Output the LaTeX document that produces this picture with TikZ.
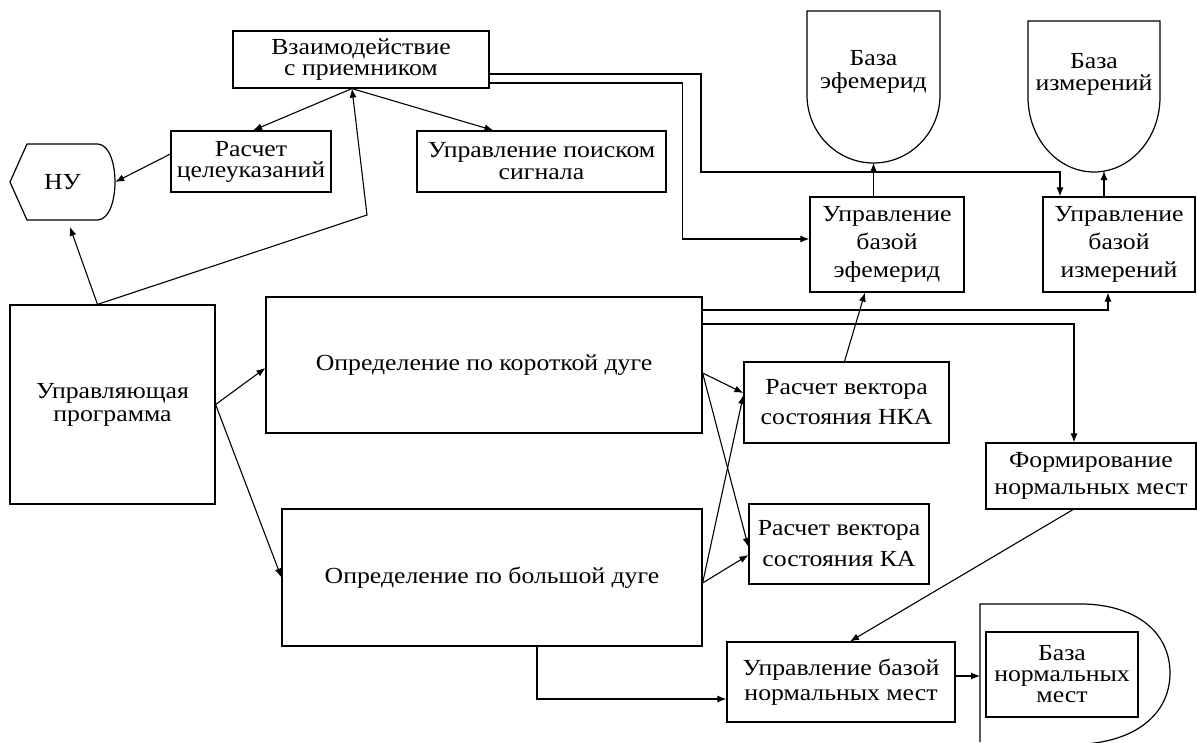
\documentclass[tikz,border=0pt]{standalone}
\usepackage{fontspec}
\setmainfont[FakeStretch=1.12]{Liberation Serif}
\usetikzlibrary{arrows.meta}
\tikzset{%
  box/.style={rectangle, draw=black, line width=1.2pt, align=center, inner sep=0pt},
  lbl/.style={rectangle, align=center, inner sep=0pt},
  lsp/.style={font=\fontsize{23}{#1}\selectfont},
  link/.style={line width=1.1pt, -{Latex[length=9pt,width=7pt]}},
  outline/.style={line width=1.2pt},
}

\begin{document}
\begin{tikzpicture}[x=1pt,y=-1pt]
  \useasboundingbox (0,0) rectangle (1197,742);
  % top row
  \node[box,lsp=21,minimum width=256pt,minimum height=57pt] (vzaim) at (361,59.5) {Взаимодействие\\с приемником};
  \node[box,lsp=21,minimum width=160pt,minimum height=61pt] (celeu) at (251,161.5) {Расчет\\целеуказаний};
  \node[box,lsp=22,minimum width=249pt,minimum height=61pt] (poisk) at (541.5,161.5) {Управление поиском\\сигнала};
  \node[lbl,lsp=20,minimum width=105pt,minimum height=76pt] (nu) at (62.5,182) {НУ};
  \draw[outline] (10,182) -- (27,144) -- (98,144) .. controls (110,145) and (115,165) .. (115,182)
    .. controls (115,199) and (110,219) .. (98,220) -- (27,220) -- cycle;
  % data bases
  \node[lbl,lsp=23] (baseeph) at (873.5,72) {База\\эфемерид};
  \draw[outline] (807,95) -- (807,11) -- (940,11) -- (940,95)
    arc[start angle=0, end angle=-180, x radius=66.5pt, y radius=68pt];
  \coordinate (baseephbot) at (873.5,163);
  \node[lbl,lsp=22] (baseizm) at (1094,74) {База\\измерений};
  \draw[outline] (1028,97) -- (1028,21) -- (1160,21) -- (1160,97)
    arc[start angle=0, end angle=-180, x radius=66pt, y radius=75pt];
  \coordinate (baseizmbot) at (1104,171);
  \node[box,lsp=28,minimum width=154pt,minimum height=95pt] (upreph) at (887,244.5) {Управление\\базой\\эфемерид};
  \node[box,lsp=28,minimum width=152pt,minimum height=95pt] (uprizm) at (1119,244.5) {Управление\\базой\\измерений};
  % middle
  \node[box,lsp=23,minimum width=205pt,minimum height=199pt] (upr) at (112.5,404.5) {Управляющая\\программа};
  \node[box,lsp=23,minimum width=436pt,minimum height=136pt] (korot) at (484,365) {Определение по короткой дуге};
  \node[box,lsp=23,minimum width=420pt,minimum height=137pt] (bolsh) at (492,577.5) {Определение по большой дуге};
  \node[box,lsp=30,minimum width=205pt,minimum height=81pt] (nka) at (846.5,402.5) {Расчет вектора\\состояния НКА};
  \node[box,lsp=31,minimum width=180pt,minimum height=80pt] (ka) at (839,544) {Расчет вектора\\состояния КА};
  \node[box,lsp=27,minimum width=210pt,minimum height=66pt] (form) at (1091,476) {Формирование\\нормальных мест};
  % bottom
  \node[box,lsp=25,minimum width=228pt,minimum height=80pt] (uprnorm) at (841,682) {Управление базой\\нормальных мест};
  \node[box,lsp=21,minimum width=152pt,minimum height=85pt] (basenorm) at (1062,674.5) {База\\нормальных\\мест};
  \draw[outline] (980,742) -- (980,604) -- (1085,604) .. controls (1140,606) and (1170,635) .. (1170,673)
    .. controls (1170,711) and (1140,740) .. (1085,744);
  \coordinate (normin) at (980,676);
  \coordinate (bend) at (367,215);

  % links from the control program
  \draw[link,shorten >=7pt] ([xshift=-15pt]upr.north) -- ([xshift=5pt]nu.south);
  \draw[link] ([xshift=-15pt]upr.north) -- (bend) -- ([xshift=-9pt]vzaim.south);
  \draw[link] ([xshift=-9pt]vzaim.south) -- ([xshift=2pt]celeu.north);
  \draw[link] ([xshift=-9pt]vzaim.south) -- ([xshift=-48pt]poisk.north);
  \draw[link] ([yshift=7.5pt]celeu.west) -- (nu.east);
  \draw[link] ([yshift=-14.5pt]vzaim.east) -| (701,172) -| ([xshift=-59pt]uprizm.north);
  \draw[link] ([yshift=-23.5pt]vzaim.east) -| ([xshift=-127pt,yshift=5.5pt]upreph.west) -- ([yshift=5.5pt]upreph.west);
  \draw[link] (upreph.north -| baseephbot) -- (baseephbot);
  \draw[link] ([xshift=-15pt]uprizm.north) -- (baseizmbot);
  \draw[link] (upr.east) -- ([yshift=-3pt]korot.west);
  \draw[link] (upr.east) -- (bolsh.west);
  % links from the arcs
  \draw[link] ([yshift=55pt]korot.east) -| ([xshift=-11pt]uprizm.south);
  \draw[link] ([yshift=41pt]korot.east) -| ([xshift=-17pt]form.north);
  \draw[link] ([xshift=-2pt]nka.north) -- ([xshift=-22pt]upreph.south);
  \draw[link] ([yshift=-8pt]korot.east) -- ([yshift=9.5pt]nka.west);
  \draw[link] ([yshift=-8pt]korot.east) -- ([yshift=-3pt]ka.west);
  \draw[link] ([yshift=-5.5pt]bolsh.east) -- ([yshift=7.5pt]nka.west);
  \draw[link] ([yshift=-5.5pt]bolsh.east) -- ([yshift=-11pt]ka.west);
  \draw[link] ([xshift=-18pt]form.south) -- ([xshift=9pt]uprnorm.north);
  \draw[link] ([xshift=45pt]bolsh.south) |- ([yshift=-17pt]uprnorm.west);
  \draw[link] ([yshift=6pt]uprnorm.east) -- (normin);
\end{tikzpicture}
\end{document}
